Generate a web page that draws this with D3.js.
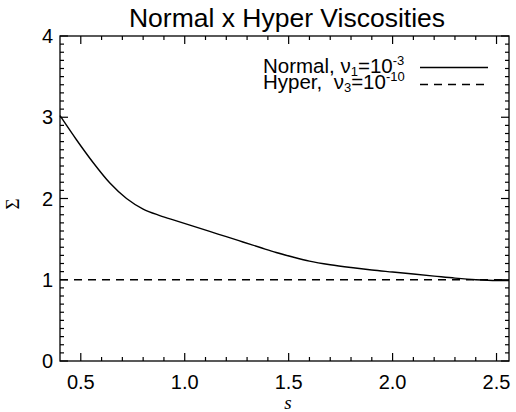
<!DOCTYPE html>
<html><head><meta charset="utf-8">
<script src="https://cdn.jsdelivr.net/npm/d3@7"></script>
<style>body{margin:0;background:#fff}</style>
</head><body>
<svg id="c" width="516" height="412"></svg>
<script>
const title = "Normal x Hyper Viscosities";
const xTicks = [0.5, 1.0, 1.5, 2.0, 2.5];
const yTicks = [0, 1, 2, 3, 4];
const sNormal = [0.40, 0.48, 0.56, 0.64, 0.72, 0.80, 0.88, 0.96, 1.04, 1.12, 1.20, 1.28, 1.36, 1.44, 1.52, 1.60, 1.70, 1.80, 1.90, 2.00, 2.10, 2.20, 2.30, 2.40, 2.50, 2.56];
const sigNormal = [3.02, 2.72, 2.44, 2.19, 2.00, 1.87, 1.79, 1.725, 1.66, 1.595, 1.53, 1.465, 1.40, 1.335, 1.28, 1.23, 1.185, 1.15, 1.12, 1.095, 1.07, 1.045, 1.02, 1.0, 0.99, 0.99];
const sHyper = [0.40, 2.56];
const sigHyper = [1.0, 1.0];

const svg = d3.select("#c");
const L = 60, R = 509, T = 36, B = 361;
const x = d3.scaleLinear().domain([0.4, 2.56]).range([L, R]);
const y = d3.scaleLinear().domain([0, 4]).range([B, T]);
const font = "'Liberation Sans', Arial, sans-serif";

// frame
svg.append("rect").attr("x", L).attr("y", T).attr("width", R - L).attr("height", B - T)
  .attr("fill", "none").attr("stroke", "#000").attr("stroke-width", 1.3);

const xMinor = d3.range(5, 26).map(d => d / 10);
const yMinor = d3.range(0, 41).map(d => d / 10);
const g = svg.append("g").attr("stroke", "#000").attr("stroke-width", 1.2);
xMinor.forEach(v => {
  const major = xTicks.some(t => Math.abs(t - v) < 1e-6);
  const len = major ? 8 : 4;
  g.append("line").attr("x1", x(v)).attr("x2", x(v)).attr("y1", B).attr("y2", B - len);
  g.append("line").attr("x1", x(v)).attr("x2", x(v)).attr("y1", T).attr("y2", T + len);
});
yMinor.forEach(v => {
  const major = yTicks.some(t => Math.abs(t - v) < 1e-6);
  const len = major ? 8 : 4;
  g.append("line").attr("y1", y(v)).attr("y2", y(v)).attr("x1", L).attr("x2", L + len);
  g.append("line").attr("y1", y(v)).attr("y2", y(v)).attr("x1", R).attr("x2", R - len);
});

// tick labels
svg.selectAll(".xt").data(xTicks).enter().append("text")
  .attr("x", d => x(d)).attr("y", 389).attr("text-anchor", "middle")
  .attr("font-family", font).attr("font-size", 20).text(d => d.toFixed(1));
svg.selectAll(".yt").data(yTicks).enter().append("text")
  .attr("x", 53).attr("y", d => y(d) + 7).attr("text-anchor", "end")
  .attr("font-family", font).attr("font-size", 20).text(d => d);

// title
svg.append("text").attr("x", 287).attr("y", 27).attr("text-anchor", "middle")
  .attr("font-family", font).attr("font-size", 26.5).text(title);

// axis titles
svg.append("text").attr("x", 288).attr("y", 409).attr("text-anchor", "middle")
  .attr("font-family", "'Liberation Serif', serif").attr("font-style", "italic")
  .attr("font-size", 19).text("s");
svg.append("text").attr("transform", "translate(19,204) rotate(-90)")
  .attr("text-anchor", "middle")
  .attr("font-family", "'Liberation Serif', serif").attr("font-size", 19).text("Σ");

// curves
const line = d3.line().x(d => x(d[0])).y(d => y(d[1])).curve(d3.curveMonotoneX);
svg.append("path").datum(sNormal.map((s, i) => [s, sigNormal[i]]))
  .attr("d", line).attr("fill", "none").attr("stroke", "#000").attr("stroke-width", 1.4);
svg.append("path").datum(sHyper.map((s, i) => [s, sigHyper[i]]))
  .attr("d", line).attr("fill", "none").attr("stroke", "#000").attr("stroke-width", 1.3)
  .attr("stroke-dasharray", "8,6");

// legend
const lg = svg.append("g").attr("font-family", font).attr("font-size", 20.5);
const t1 = lg.append("text").attr("x", 263).attr("y", 73);
t1.append("tspan").text("Normal, ν");
t1.append("tspan").attr("font-size", 13).attr("dy", 3).text("1");
t1.append("tspan").attr("dy", -3).text("=10");
t1.append("tspan").attr("font-size", 13).attr("dy", -8).text("-3");
const t2 = lg.append("text").attr("x", 263).attr("y", 89).attr("xml:space", "preserve");
t2.append("tspan").text("Hyper,\u00a0 ν");
t2.append("tspan").attr("font-size", 13).attr("dy", 3).text("3");
t2.append("tspan").attr("dy", -3).text("=10");
t2.append("tspan").attr("font-size", 13).attr("dy", -8).text("-10");
svg.append("line").attr("x1", 420).attr("x2", 488).attr("y1", 67.5).attr("y2", 67.5)
  .attr("stroke", "#000").attr("stroke-width", 1.3);
svg.append("line").attr("x1", 420).attr("x2", 488).attr("y1", 84.5).attr("y2", 84.5)
  .attr("stroke", "#000").attr("stroke-width", 1.3).attr("stroke-dasharray", "8,6");
</script>
</body></html>
